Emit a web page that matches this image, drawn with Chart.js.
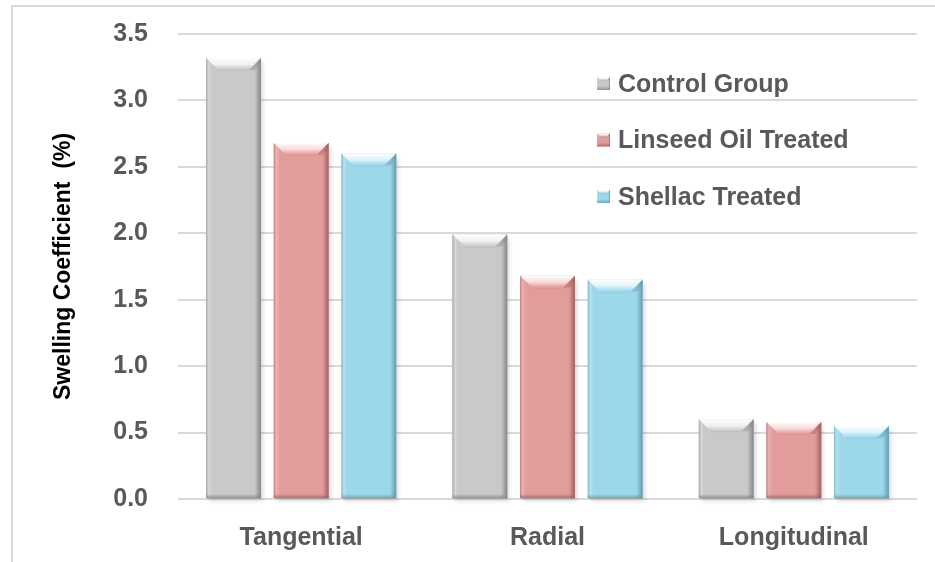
<!DOCTYPE html>
<html>
<head>
<meta charset="utf-8">
<script src="https://cdn.jsdelivr.net/npm/chart.js@4.4.1/dist/chart.umd.min.js"></script>
<style>
  html, body { margin: 0; padding: 0; background: #ffffff; }
  #wrap { position: relative; width: 935px; height: 562px; }
</style>
</head>
<body>
<div id="wrap"><canvas id="chart" width="935" height="562"></canvas></div>
<script>
// Swelling coefficient by direction and treatment
const categories = ['Tangential', 'Radial', 'Longitudinal'];
const seriesNames = ['Control Group', 'Linseed Oil Treated', 'Shellac Treated'];
const controlGroup = [3.32, 1.99, 0.60];
const linseedOil = [2.68, 1.68, 0.58];
const shellac = [2.60, 1.65, 0.55];
const yTicks = [0.0, 0.5, 1.0, 1.5, 2.0, 2.5, 3.0, 3.5];

// base / highlight / shade for each series
const palette = [
  { base: '#c9c9c9', light: '#f4f4f4', dark: '#7f7f7f' },
  { base: '#e39c9c', light: '#fbe0e0', dark: '#9e5a5a' },
  { base: '#9dd8ea', light: '#e2f6fc', dark: '#5b98ab' }
];

const FONT = '"Liberation Sans", Arial, Helvetica, sans-serif';
const TEXT_GREY = '#595959';

function rgba(hex, a) {
  const n = parseInt(hex.slice(1), 16);
  return `rgba(${(n >> 16) & 255},${(n >> 8) & 255},${n & 255},${a})`;
}

// Draw a bevelled block (used for bars and legend swatches)
function drawBevel(ctx, left, top, right, bottom, col, depth) {
  const w = right - left, h = bottom - top;
  if (w <= 0 || h <= 0) return;
  const b = Math.min(depth, h / 2.5, w / 4);

  // side shading across the width
  const hg = ctx.createLinearGradient(left, 0, right, 0);
  hg.addColorStop(0, rgba(col.dark, 0.55));
  hg.addColorStop(0.05, rgba(col.light, 0.35));
  hg.addColorStop(0.12, rgba(col.base, 0));
  hg.addColorStop(0.86, rgba(col.base, 0));
  hg.addColorStop(0.94, rgba(col.dark, 0.45));
  hg.addColorStop(1, rgba(col.dark, 0.9));
  ctx.fillStyle = hg;
  ctx.fillRect(left, top, w, h);

  // top bevel
  const tg = ctx.createLinearGradient(0, top, 0, top + b);
  tg.addColorStop(0, rgba('#ffffff', 0.98));
  tg.addColorStop(0.55, rgba(col.light, 0.9));
  tg.addColorStop(1, rgba(col.base, 0.6));
  ctx.beginPath();
  ctx.moveTo(left, top);
  ctx.lineTo(right, top);
  ctx.lineTo(right - b, top + b);
  ctx.lineTo(left + b, top + b);
  ctx.closePath();
  ctx.fillStyle = tg;
  ctx.fill();

  // right bevel corner darker
  ctx.beginPath();
  ctx.moveTo(right, top);
  ctx.lineTo(right - b, top + b);
  ctx.lineTo(right - b * 0.5, top + b);
  ctx.lineTo(right, top + b * 0.4);
  ctx.closePath();
  ctx.fillStyle = rgba(col.dark, 0.35);
  ctx.fill();

  // thin line under the bevel
  ctx.fillStyle = rgba(col.dark, 0.15);
  ctx.fillRect(left + b, top + b, w - 2 * b, 1);

  // bottom edge
  const bg = ctx.createLinearGradient(0, bottom - 4, 0, bottom);
  bg.addColorStop(0, rgba(col.dark, 0));
  bg.addColorStop(1, rgba(col.dark, 0.7));
  ctx.fillStyle = bg;
  ctx.fillRect(left, bottom - 4, w, 4);
}

const bevelPlugin = {
  id: 'bevelBars',
  beforeDatasetsDraw(chart) {
    const ctx = chart.ctx;
    ctx.save();
    chart.data.datasets.forEach((ds, di) => {
      const meta = chart.getDatasetMeta(di);
      meta.data.forEach(el => {
        const p = el.getProps(['x', 'y', 'base', 'width'], true);
        ctx.save();
        ctx.shadowColor = 'rgba(0,0,0,0.3)';
        ctx.shadowBlur = 4;
        ctx.shadowOffsetX = 2;
        ctx.shadowOffsetY = 2;
        ctx.fillStyle = 'rgba(140,140,140,0.5)';
        ctx.fillRect(p.x - p.width / 2 + 1, p.y + 2, p.width - 1, p.base - p.y - 1);
        ctx.restore();
      });
    });
    ctx.restore();
  },
  afterDatasetsDraw(chart) {
    const ctx = chart.ctx;
    ctx.save();
    chart.data.datasets.forEach((ds, di) => {
      const meta = chart.getDatasetMeta(di);
      meta.data.forEach(el => {
        const p = el.getProps(['x', 'y', 'base', 'width'], true);
        drawBevel(ctx, p.x - p.width / 2, p.y, p.x + p.width / 2, p.base, palette[di], 12);
      });
    });
    ctx.restore();
  }
};

// frame lines and the in-plot legend
const framePlugin = {
  id: 'frameAndLegend',
  beforeDraw(chart) {
    const ctx = chart.ctx;
    ctx.save();
    ctx.fillStyle = '#ffffff';
    ctx.fillRect(0, 0, chart.width, chart.height);
    ctx.strokeStyle = '#d9d9d9';
    ctx.lineWidth = 2;
    ctx.beginPath();
    ctx.moveTo(12, chart.height);
    ctx.lineTo(12, 6);
    ctx.lineTo(chart.width, 6);
    ctx.stroke();
    ctx.restore();
  },
  afterDraw(chart) {
    const ctx = chart.ctx;
    ctx.save();
    const x0 = 597, y0 = 84, step = 56.5;
    chart.data.datasets.forEach((ds, i) => {
      const cy = y0 + i * step;
      const col = palette[i];
      ctx.fillStyle = col.base;
      ctx.fillRect(x0, cy - 7, 13, 13);
      drawBevel(ctx, x0, cy - 7, x0 + 13, cy + 6, col, 4);
      ctx.fillStyle = TEXT_GREY;
      ctx.font = 'bold 25px ' + FONT;
      ctx.textBaseline = 'middle';
      ctx.textAlign = 'left';
      ctx.fillText(ds.label, 618, cy + 1);
    });
    ctx.restore();
  }
};

const datasets = [controlGroup, linseedOil, shellac].map((values, i) => ({
  label: seriesNames[i],
  data: values,
  backgroundColor: palette[i].base,
  borderWidth: 0,
  categoryPercentage: 0.824,
  barPercentage: 0.81
}));

new Chart(document.getElementById('chart'), {
  type: 'bar',
  data: { labels: categories, datasets },
  plugins: [bevelPlugin, framePlugin],
  options: {
    responsive: false,
    animation: false,
    layout: { padding: { top: 34, right: 18, left: 0, bottom: 0 } },
    plugins: { legend: { display: false }, tooltip: { enabled: false } },
    scales: {
      x: {
        grid: { display: false },
        border: { display: false },
        ticks: {
          color: TEXT_GREY,
          font: { family: FONT, size: 25, weight: 'bold' },
          padding: 16
        },
        afterFit(scale) { scale.height = 63; }
      },
      y: {
        min: 0,
        max: 3.5,
        afterBuildTicks(scale) { scale.ticks = yTicks.map(v => ({ value: v })); },
        grid: { color: '#d9d9d9', lineWidth: 2, drawTicks: true, tickLength: 25, tickColor: 'rgba(0,0,0,0)' },
        border: { display: false },
        ticks: {
          color: TEXT_GREY,
          font: { family: FONT, size: 25, weight: 'bold' },
          padding: 5,
          callback: v => Number(v).toFixed(1)
        },
        title: {
          display: true,
          text: 'Swelling Coefficient  (%)',
          color: '#000000',
          font: { family: FONT, size: 23, weight: 'bold' },
          padding: { top: 50, bottom: 0 }
        },
        afterFit(scale) { scale.width = 178; }
      }
    }
  }
});
</script>
</body>
</html>
